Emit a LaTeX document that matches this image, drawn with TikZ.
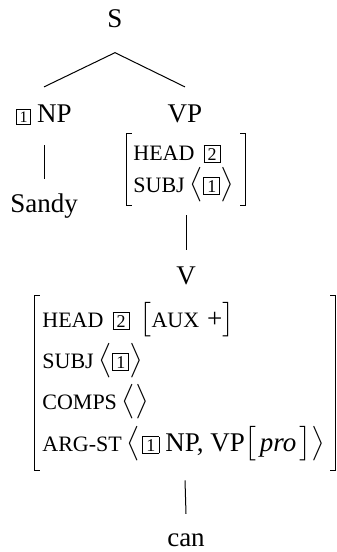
\documentclass[tikz,border=0pt]{standalone}
\usepackage{amsmath}
\usepackage{fontspec}
\setmainfont{Liberation Serif}
\newcommand\mainfs{\fontsize{13.5}{16}\selectfont}
\newcommand\featfs[1]{{\fontsize{11}{12}\selectfont #1}}
\newcommand\tagbx[1]{{\setlength\fboxsep{1pt}\setlength\fboxrule{0.45pt}\fbox{\makebox[5.6pt]{\fontsize{9}{10}\selectfont #1}}}}
\newcommand\tagsm[1]{{\setlength\fboxsep{1pt}\setlength\fboxrule{0.45pt}\fbox{\makebox[4.6pt]{\fontsize{8}{9}\selectfont #1}}}}
\begin{document}
\begin{tikzpicture}[x=0.5pt,y=-0.5pt,
  every node/.style={inner sep=0pt, font=\mainfs},
  lab/.style={anchor=base},
  row/.style={anchor=base west},
  edge/.style={line width=0.5pt},
  brk/.style={line width=0.6pt}]
\useasboundingbox (0,0) rectangle (337,552);

% tree labels
\node[lab] (S) at (115,27) {S};
\node[lab] (NP) at (44,122) {\tagsm{1}\hspace{3pt}NP};
\node[lab] (VP) at (185,122) {VP};
\node[lab] (Sandy) at (44,212) {Sandy};
\node[lab] (V) at (186,284) {V};
\node[lab] (can) at (186,546) {can};

% VP feature structure
\node[minimum width=59pt, minimum height=35.5pt] (vpavm) at (186,169.5) {};
\node[row] (vph) at (133,160) {\featfs{HEAD}\hspace{4.5pt}\tagbx{2}};
\node[row] (vps) at (133,192) {\featfs{SUBJ}\hspace{2.5pt}$\bigl\langle$\tagbx{1}$\bigr\rangle$};
\draw[brk] ([xshift=2.5pt]vpavm.north west) -- (vpavm.north west) -- (vpavm.south west) -- ([xshift=2.5pt]vpavm.south west);
\draw[brk] ([xshift=-2.5pt]vpavm.north east) -- (vpavm.north east) -- (vpavm.south east) -- ([xshift=-2.5pt]vpavm.south east);

% V feature structure
\node[minimum width=150pt, minimum height=87pt] (vavm) at (185,383) {};
\node[row] (h2) at (42,327) {\featfs{HEAD}\hspace{4.5pt}\tagbx{2}\hspace{5pt}$\bigl[$\featfs{AUX}\hspace{4pt}+$\bigr]$};
\node[row] (s2) at (42,368) {\featfs{SUBJ}\hspace{2.5pt}$\bigl\langle$\tagbx{1}$\bigr\rangle$};
\node[row] (c2) at (42,409) {\featfs{COMPS}\hspace{2.5pt}$\bigl\langle\bigr\rangle$};
\node[row] (a2) at (42,451) {\featfs{ARG-ST}\hspace{2.5pt}$\bigl\langle$\hspace{1pt}\tagbx{1}\hspace{3pt}NP, VP$\bigl[$\hspace{1.5pt}\textit{pro}\hspace{1.5pt}$\bigr]\bigr\rangle$};
\draw[brk] ([xshift=2.5pt]vavm.north west) -- (vavm.north west) -- (vavm.south west) -- ([xshift=2.5pt]vavm.south west);
\draw[brk] ([xshift=-2.5pt]vavm.north east) -- (vavm.north east) -- (vavm.south east) -- ([xshift=-2.5pt]vavm.south east);

% edges
\draw[edge] ([yshift=8.5pt]NP.north) -- ([yshift=-12.5pt]S.south) -- ([yshift=8.5pt]VP.north);
\draw[edge] ([yshift=-10pt]NP.south) -- ([yshift=6.8pt]Sandy.north);
\draw[edge] ([yshift=-5pt]vpavm.south) -- ([yshift=8pt]V.north);
\draw[edge] ([yshift=-5pt]vavm.south) -- ([yshift=9.5pt]can.north);
\end{tikzpicture}
\end{document}
